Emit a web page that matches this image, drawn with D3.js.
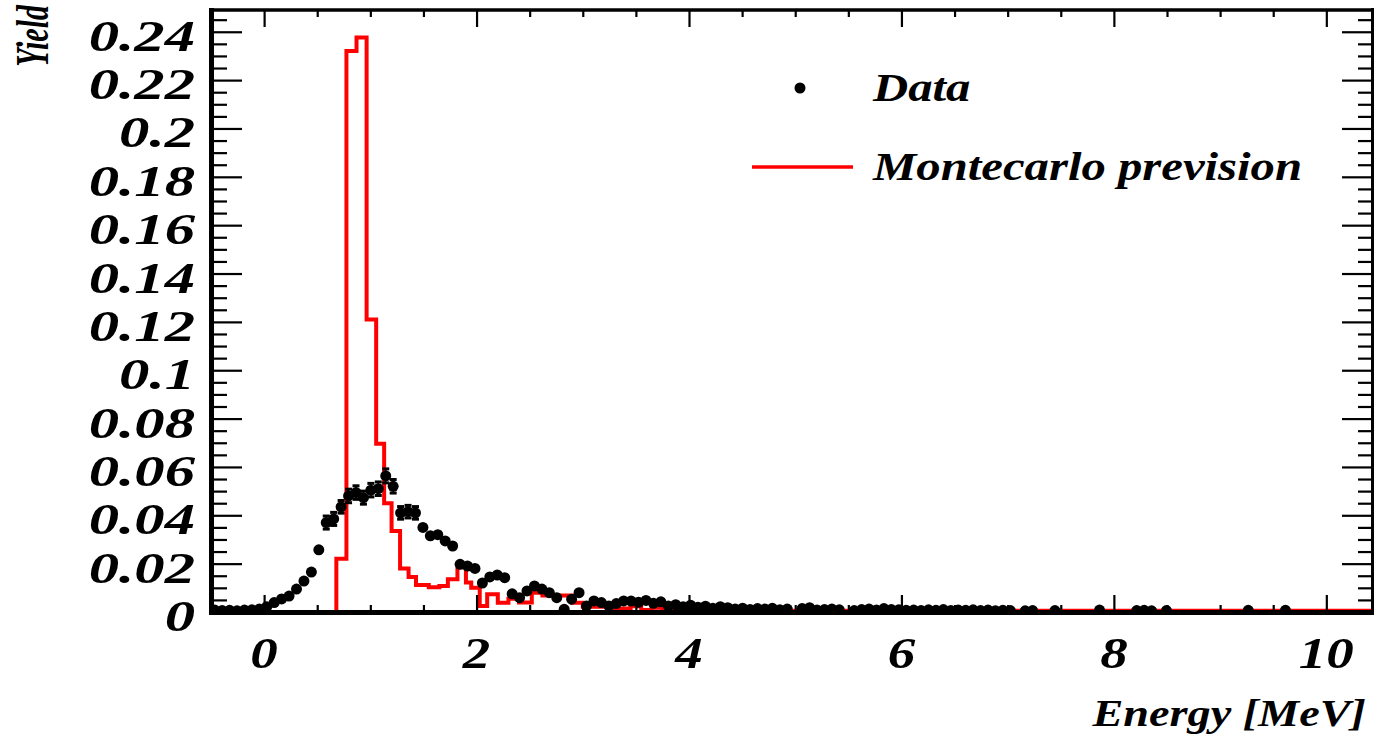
<!DOCTYPE html>
<html><head><meta charset="utf-8">
<script src="https://cdn.jsdelivr.net/npm/d3@7"></script>
<style>html,body{margin:0;padding:0;background:#fff;} svg{display:block}</style>
</head><body><svg id="c" width="1374" height="734"></svg>
<script>
// ---- data ----
const binStart = -0.5, binWidth = 0.07;
const dataValues = [
 0.0008,0.0006,0.0007,0.0005,0.0008,0.0009,0.0012,0.0022,0.0039,0.0054,
 0.0066,0.0095,0.0128,0.0165,0.0257,0.0370,0.0385,0.0435,0.0480,0.0494,
 0.0473,0.0504,0.0510,0.0563,0.0520,0.0410,0.0415,0.0410,0.0350,0.0315,
 0.0320,0.0294,0.0273,0.0197,0.0190,0.0180,0.0120,0.0145,0.0153,0.0142,
 0.0075,0.0059,0.0087,0.0108,0.0095,0.0080,0.0059,0.0011,0.0053,0.0080,
 0.0025,0.0046,0.0039,0.0025,0.0035,0.0046,0.0045,0.0040,0.0048,0.0036,
 0.0042,0.0025,0.0030,0.0022,0.0028,0.0020,0.0024,0.0015,0.0022,0.0018,
 0.0012,0.0016,0.0010,0.0014,0.0012,0.0015,0.0009,0.0012,0,     0.0014,
 0.0018,0.0008,0.0010,0.0012,0.0009,0,     0.0006,0.0010,0.0012,0.0008,
 0.0014,0.0010,0.0009,0.0007,0.0008,0.0006,0.0009,0.0007,0.0010,0.0006,
 0.0008,0.0007,0.0009,0.0006,0.0008,0.0005,0.0007,0.0006,0,     0.0005,
 0.0006,0,     0,     0.0006,0,     0,     0,     0,     0,     0.0008,
 0,     0,     0,     0,     0.0006,0.0007,0.0005,0,     0.0006,0,
 0,     0,     0,     0,     0,     0,     0,     0,     0,     0.0007,
 0,     0,     0,     0,     0.0007,0,     0,     0,     0,     0
];
const dataErrors = [
 0.0003,0.0003,0.0003,0.0003,0.0003,0.0003,0.0004,0.0005,0.0007,0.0008,
 0.0009,0.0011,0.0024,0.0014,0.0017,0.0027,0.0027,0.0026,0.0028,0.0028,
 0.0027,0.0028,0.0028,0.0029,0.0028,0.0026,0.0026,0.0026,0.0024,0.0024,
 0.0024,0.0023,0.0024,0.0017,0.0017,0.0017,0.0014,0.0015,0.0015,0.0014,
 0.0010,0.0009,0.0011,0.0012,0.0011,0.0010,0.0009,0.0004,0.0009,0.0011,
 0.0006,0.0008,0.0008,0.0006,0.0007,0.0008
];
const mcEdges = [0.08,0.68,0.775,0.87,0.965,1.055,1.13,1.2,1.28,1.36,
 1.43,1.55,1.65,1.73,1.82,1.9,1.95,2.03,2.1,2.2,
 2.3,2.4,2.52,2.62,2.9,3.0,3.3,3.45,3.55,3.65,
 3.75,4.0,10.43];
const mcValues = [0,0.022,0.232,0.2376,0.121,0.0696,0.045,0.0335,0.018,0.0145,
 0.0112,0.0102,0.0108,0.0135,0.0185,0.0122,0.0100,0.0025,0.0073,0.0038,
 0.0055,0.0039,0.0080,0.0068,0.0038,0.0022,0.0014,0.0024,0.0008,0.0018,
 0.0010,0.0005];
const xTicks = [0,2,4,6,8,10];
const xTickLabels = ["0","2","4","6","8","10"];
const yTicks = [0,0.02,0.04,0.06,0.08,0.1,0.12,0.14,0.16,0.18,0.2,0.22,0.24];
const yTickLabels = ["0","0.02","0.04","0.06","0.08","0.1","0.12","0.14","0.16","0.18","0.2","0.22","0.24"];
const legendLabels = ["Data","Montecarlo prevision"];
const xTitle = "Energy [MeV]", yTitle = "Yield";

// ---- layout ----
const FONT = "'Liberation Serif','Times New Roman',serif";
const SX = 1.25;
const x = d3.scaleLinear().domain([-0.5,10.43]).range([211,1372]);
const y = d3.scaleLinear().domain([0,0.249]).range([612,10]);
const svg = d3.select("#c");
svg.append("rect").attr("width",1374).attr("height",734).attr("fill","#fff");
svg.append("defs").append("clipPath").attr("id","clip")
  .append("rect").attr("x",211).attr("y",10).attr("width",1161).attr("height",602);
const plot = svg.append("g").attr("clip-path","url(#clip)");

// MC histogram
let p = `M${x(mcEdges[0])},${y(0)}`;
mcValues.forEach((v,i)=>{ p += `V${y(v)}H${x(mcEdges[i+1])}`; });
plot.append("path").attr("d",p).attr("fill","none").attr("stroke","#ff0000")
  .attr("stroke-width",4).attr("stroke-linejoin","miter");

// data points
const pts = dataValues.map((v,i)=>({c:binStart+binWidth*(i+0.5), v, e:dataErrors[i]})).filter(d=>d.v>0);
const R = 5.5;
const gd = plot.append("g");
pts.forEach(d=>{
  const cx = x(d.c), cy = y(d.v);
  if (d.e!==undefined) {
    const ePx = y(0)-y(d.e);
    if (ePx > R+0.5) {
      gd.append("line").attr("x1",cx).attr("x2",cx).attr("y1",cy-ePx).attr("y2",cy+ePx)
        .attr("stroke","#000").attr("stroke-width",1.5);
      [cy-ePx, cy+ePx].forEach(yy=>gd.append("rect").attr("x",cx-3.5).attr("y",yy-1.5)
        .attr("width",7).attr("height",3).attr("fill","#000"));
    }
  }
  gd.append("circle").attr("cx",cx).attr("cy",cy).attr("r",R).attr("fill","#000");
});

// ticks via d3 axes
function range(a,b,s){const r=[];for(let v=a;v<=b+1e-9;v+=s)r.push(+v.toFixed(4));return r;}
const xMinor = range(-0.5,10.4,0.5).filter(v=>!xTicks.includes(v));
const yMinor = range(0,0.245,0.005).filter(v=>!yTicks.some(t=>Math.abs(t-v)<1e-6));
function tickAxis(axisFn, scale, vals, size, tx, ty, w){
  const g = svg.append("g").attr("transform",`translate(${tx},${ty})`)
    .call(axisFn(scale).tickValues(vals).tickSize(size).tickFormat(""));
  g.select(".domain").remove();
  g.selectAll(".tick line").attr("stroke","#000").attr("stroke-width",w);
}
tickAxis(d3.axisBottom, x, xTicks, -17, 0, 612, 2.2);
tickAxis(d3.axisBottom, x, xMinor, -7, 0, 612, 2.2);
tickAxis(d3.axisTop, x, xTicks, -17, 0, 10, 2.2);
tickAxis(d3.axisTop, x, xMinor, -7, 0, 10, 2.2);
tickAxis(d3.axisLeft, y, yTicks, -31, 211, 0, 2.2);
tickAxis(d3.axisLeft, y, yMinor, -16, 211, 0, 2.2);
tickAxis(d3.axisRight, y, yTicks, -30, 1372, 0, 2.2);
tickAxis(d3.axisRight, y, yMinor, -14, 1372, 0, 2.2);

// frame
svg.append("line").attr("x1",211.5).attr("x2",211.5).attr("y1",8).attr("y2",615).attr("stroke","#000").attr("stroke-width",5);
svg.append("line").attr("x1",209).attr("x2",1374).attr("y1",612.5).attr("y2",612.5).attr("stroke","#000").attr("stroke-width",5);
svg.append("line").attr("x1",209).attr("x2",1374).attr("y1",10).attr("y2",10).attr("stroke","#000").attr("stroke-width",3.5);
svg.append("line").attr("x1",1372.5).attr("x2",1372.5).attr("y1",8).attr("y2",614).attr("stroke","#000").attr("stroke-width",3);

// text helper
function txt(s, tx, ty, size, anchor, sx, extra){
  return svg.append("text").attr("transform",`translate(${tx},${ty}) scale(${sx},1)` + (extra||""))
    .attr("text-anchor",anchor).attr("font-family",FONT).attr("font-weight","bold")
    .attr("font-style","italic").attr("font-size",size).attr("fill","#000").text(s);
}
yTicks.forEach((v,i)=>txt(yTickLabels[i], 195, y(v)+19, 44, "end", 1.38));
xTicks.forEach((v,i)=>txt(xTickLabels[i], x(v), 668, 44, "middle", SX));
txt(xTitle, 1366, 726, 37, "end", SX);
txt(yTitle, 48, 5, 30, "end", 1.55, " rotate(-90)");

// legend
svg.append("circle").attr("cx",800).attr("cy",88).attr("r",R).attr("fill","#000");
txt(legendLabels[0], 873, 101, 39, "start", SX);
svg.append("line").attr("x1",752).attr("x2",853).attr("y1",167).attr("y2",167).attr("stroke","#ff0000").attr("stroke-width",3.5);
txt(legendLabels[1], 873, 180, 39, "start", SX);
</script></body></html>
